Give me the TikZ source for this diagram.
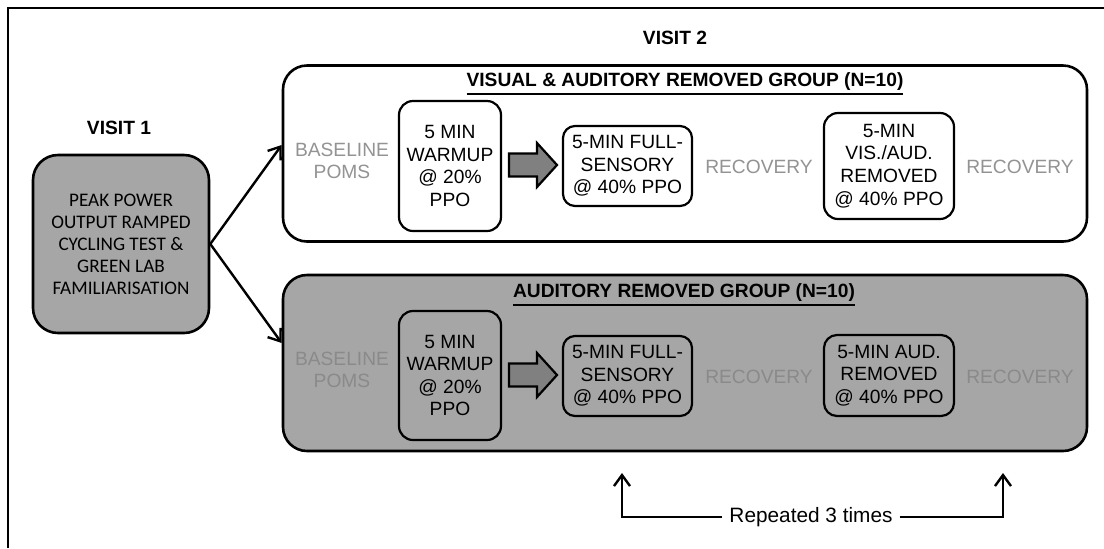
\documentclass[tikz,border=0pt]{standalone}
\usepackage{fontspec}
\setmainfont{Liberation Sans}
\newfontfamily\calibfont{Carlito}
\usetikzlibrary{arrows.meta}
\definecolor{panelgray}{HTML}{A6A6A6}
\definecolor{arrowgray}{HTML}{808080}
\definecolor{softtext}{HTML}{939393}
\definecolor{softtextdark}{HTML}{8A8A8A}
% heading with a thick rule underneath
\newcommand\headline[1]{\leavevmode\vtop{\hbox{#1}\kern1.3pt\hrule height 1pt}}
\begin{document}
\begin{tikzpicture}[x=0.5pt,y=-0.5pt,
  every node/.style={inner sep=0pt},
  txt/.style={font=\fontsize{9.6}{11.3}\selectfont, align=center},
  stage/.style={txt, draw, line width=1.1pt, rounded corners=7pt},
  group/.style={draw, line width=1.3pt, rounded corners=12pt,
                minimum width=402pt, minimum height=88pt},
  faint/.style={txt, text=softtext},
  heading/.style={font=\fontsize{9.6}{11.3}\selectfont\bfseries},
  flow/.style={-{Straight Barb[length=5.5pt,width=8pt]}, line width=1.2pt},
  blockarrow/.style={draw, line width=1.1pt, fill=arrowgray, line join=miter}]
\useasboundingbox (0,0) rectangle (1104,548);

% outer frame
\draw[line width=1.1pt] (8,548) -- (8,8) -- (1104,8);

% visit 1
\node[heading] (v1lab) at (119,128) {VISIT 1};
\node[draw, line width=1.3pt, rounded corners=12.5pt, fill=panelgray,
      minimum width=88pt, minimum height=89pt, align=center,
      font=\calibfont\fontsize{9.6}{11}\selectfont] (v1) at (121,244)
  {PEAK POWER\\OUTPUT RAMPED\\CYCLING TEST \&\\GREEN LAB\\FAMILIARISATION};

% visit 2
\node[heading] (v2lab) at (675,38) {VISIT 2};
\node[group, fill=white] (g1) at (685,153.5) {};
\node[group, fill=panelgray] (g2) at (685,363) {};
\node[heading] (g1t) at (685,84) {\headline{VISUAL \& AUDITORY REMOVED GROUP (N=10)}};
\node[heading] (g2t) at (684,295) {\headline{AUDITORY REMOVED GROUP (N=10)}};

% top group sequence
\node[faint] (b1) at (342,161) {BASELINE\\POMS};
\node[stage, minimum width=51pt, minimum height=65pt] (w1) at (450,166)
  {5 MIN\\WARMUP\\@ 20\%\\PPO};
\node[stage, rounded corners=6pt, minimum width=64.5pt, minimum height=40pt] (f1) at (627.5,166)
  {5-MIN FULL-\\SENSORY\\@ 40\% PPO};
\node[faint] (r1a) at (759,167) {RECOVERY};
\node[stage, rounded corners=7pt, minimum width=65pt, minimum height=53pt] (x1) at (889,166)
  {5-MIN\\VIS./AUD.\\REMOVED\\@ 40\% PPO};
\node[faint] (r1b) at (1020,167) {RECOVERY};

% bottom group sequence
\node[faint, text=softtextdark] (b2) at (342,370) {BASELINE\\POMS};
\node[stage, minimum width=51pt, minimum height=64.5pt] (w2) at (450,375.5)
  {5 MIN\\WARMUP\\@ 20\%\\PPO};
\node[stage, rounded corners=6pt, minimum width=64.5pt, minimum height=40pt] (f2) at (627.5,376)
  {5-MIN FULL-\\SENSORY\\@ 40\% PPO};
\node[faint, text=softtextdark] (r2a) at (759,377) {RECOVERY};
\node[stage, rounded corners=6.5pt, minimum width=65pt, minimum height=40.5pt] (x2) at (889,375.5)
  {5-MIN AUD.\\REMOVED\\@ 40\% PPO};
\node[faint, text=softtextdark] (r2b) at (1020,377) {RECOVERY};

% block arrows between warm-up and full-sensory stages
\coordinate (ba1) at (509,165);
\coordinate (ba2) at (509,375);
\foreach \c in {ba1,ba2}
  \draw[blockarrow] (\c) ++(0,-11.5) -- ++(28,0) -- ++(0,-10.5) -- ++(20,22)
    -- ++(-20,22) -- ++(0,-10.5) -- ++(-28,0) -- cycle;

% split from visit 1 into the two groups
\coordinate (e1) at (g1.west |- 0,145);
\coordinate (e2) at (g2.west |- 0,343);
\draw[flow] (v1.east) -- (e1);
\draw[flow] (v1.east) -- (e2);

% repetition bracket
\node[font=\fontsize{10.4}{12}\selectfont, inner xsep=3.3pt] (rep) at (811,517) {Repeated 3 times};
\coordinate (ra) at (622,473);
\coordinate (rb) at (1003,473);
\draw[flow, line join=miter] (rep.west) -| (ra);
\draw[flow, line join=miter] (rep.east) -| (rb);
\end{tikzpicture}
\end{document}
